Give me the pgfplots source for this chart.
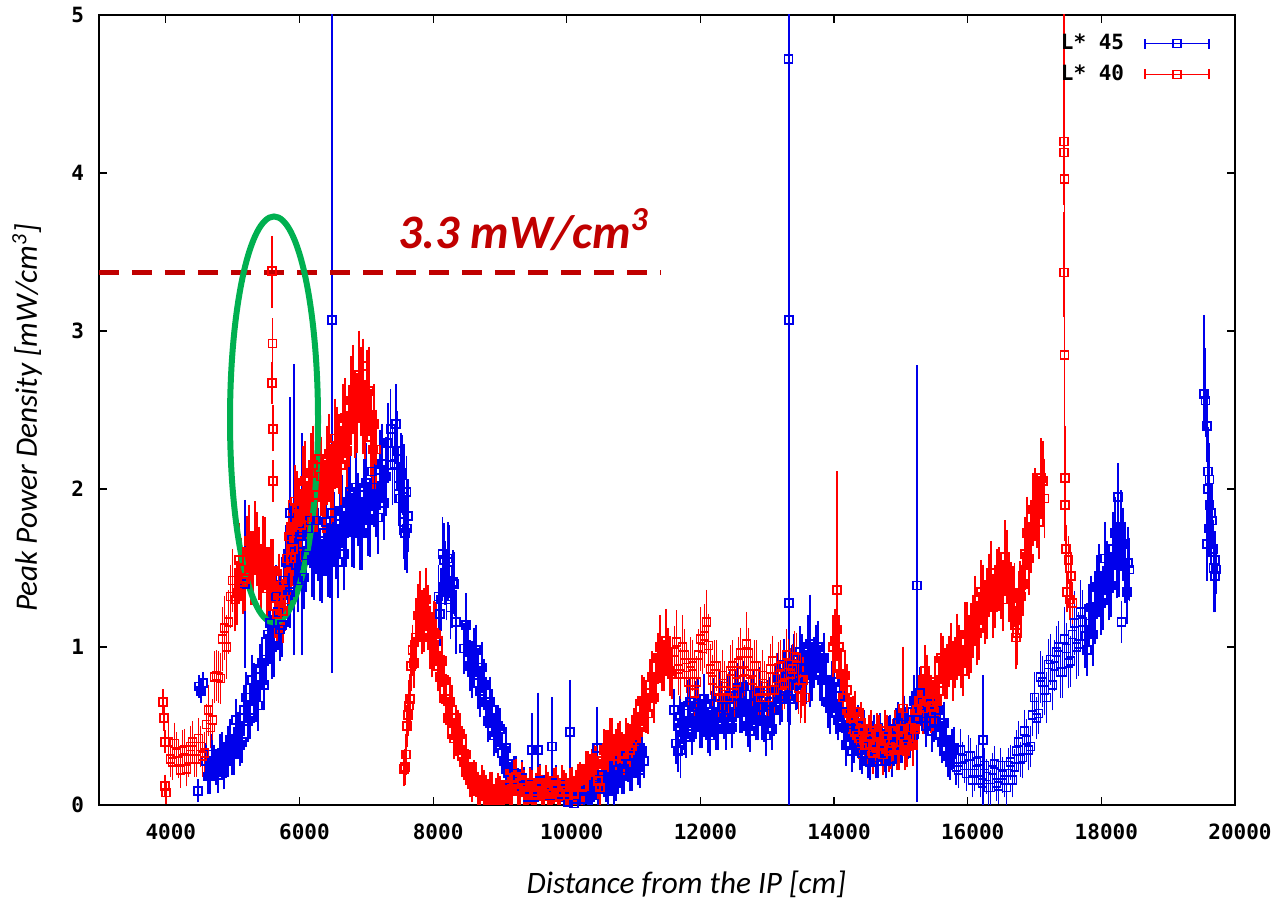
\documentclass[border=0pt]{standalone}
\usepackage{pgfplots}
\usepackage{pgfplotstable}
\pgfplotsset{compat=1.18}
\usepackage{fontspec}
\setmainfont{Carlito}
\newfontfamily\tickfont{DejaVu Sans Mono}
\definecolor{gpblue}{RGB}{0,0,235}
\definecolor{gpred}{RGB}{255,0,0}
\definecolor{darkred}{RGB}{192,0,0}
\definecolor{ellgreen}{RGB}{0,176,80}

\pgfplotstableread{
x y e
4040 .40 .10
4100 .27 .08
4160 .33 .10
4220 .22 .08
4280 .35 .10
4340 .29 .08
4400 .40 .10
4460 .29 .08
4520 .37 .10
4580 .33 .10
4640 .60 .13
4700 .54 .10
4760 .82 .13
4820 .80 .13
4880 1.12 .17
4940 1.16 .17
5000 1.42 .17
5060 1.34 .17
5120 1.49 .17
5180 1.43 .17
5240 1.67 .20
5300 1.50 .20
5360 1.62 .20
5420 1.44 .17
5480 1.59 .20
5540 1.43 .17
5600 1.48 .17
5660 1.21 .17
5720 1.29 .17
5780 1.30 .17
5840 1.70 .20
5900 1.62 .20
5960 1.88 .20
6020 1.77 .20
6080 2.05 .22
6140 1.95 .20
6200 2.15 .22
6260 1.96 .20
6320 2.08 .22
6380 1.95 .20
6440 2.22 .22
6500 2.04 .22
6560 2.27 .22
6620 2.15 .22
6680 2.45 .22
6740 2.39 .22
6800 2.63 .25
6860 2.48 .22
6920 2.62 .25
6980 2.44 .22
7040 2.62 .25
7100 2.25 .22
7140 2.25 .22
4070 .29 .08
4130 .39 .10
4190 .28 .08
4250 .34 .10
4310 .23 .08
4370 .37 .10
4430 .29 .08
4490 .42 .10
4550 .31 .10
4610 .51 .10
4670 .49 .10
4730 .81 .13
4790 .81 .13
4850 1.05 .17
4910 1.00 .17
4970 1.32 .17
5030 1.30 .17
5090 1.55 .20
5150 1.41 .17
5210 1.60 .20
5270 1.50 .20
5330 1.69 .20
5390 1.53 .20
5450 1.60 .20
5510 1.37 .17
5570 1.48 .17
5630 1.26 .17
5690 1.39 .17
5750 1.23 .17
5810 1.56 .20
5870 1.56 .20
5930 1.92 .20
5990 1.84 .20
6050 2.02 .22
6110 1.82 .20
6170 2.10 .22
6230 1.96 .20
6290 2.19 .22
6350 1.95 .20
6410 2.15 .22
6470 2.03 .22
6530 2.32 .22
6590 2.22 .22
6650 2.41 .22
6710 2.24 .22
6770 2.56 .25
6830 2.45 .22
6890 2.72 .25
6950 2.47 .22
7010 2.60 .25
7070 2.33 .22
7120 2.41 .22
}\redA

\pgfplotstableread{
x y e
7560 .23 .08
7590 .32 .10
7620 .57 .10
7650 .67 .13
7690 .98 .13
7740 1.06 .17
7800 1.28 .17
7860 1.17 .17
7920 1.19 .17
7980 1.01 .17
8040 1.08 .17
8100 .81 .13
8160 .79 .13
8220 .55 .10
8280 .60 .13
8340 .44 .10
8400 .45 .10
8460 .27 .08
8520 .24 .08
8580 .13 .08
8640 .16 .08
8700 .08 .08
8760 .11 .08
8820 .05 .08
8880 .10 .08
8940 .06 .08
9000 .08 .07
9060 .05 .07
9120 .12 .08
9180 .10 .08
9240 .18 .08
9300 .09 .08
9360 .11 .08
9420 .06 .08
9480 .11 .08
9540 .09 .08
9600 .14 .08
9660 .07 .08
9720 .10 .08
9780 .07 .08
9840 .13 .08
9900 .06 .08
9960 .11 .08
10020 .06 .08
10080 .13 .08
10140 .11 .08
10200 .16 .08
10260 .12 .08
10320 .23 .08
10380 .24 .08
10440 .26 .08
10500 .11 .08
10560 .35 .10
10620 .34 .10
10680 .42 .10
10740 .35 .10
10800 .40 .10
10860 .32 .10
10920 .39 .10
10980 .37 .10
11040 .54 .10
11100 .49 .10
11160 .65 .13
11220 .58 .10
11280 .81 .13
11340 .80 .13
11400 1.00 .17
11460 .88 .13
11520 .96 .13
11580 .83 .13
11640 1.03 .17
11700 .83 .13
11760 .95 .13
11820 .78 .13
11880 .88 .13
11940 .78 .13
12000 1.05 .17
12060 1.07 .17
12120 1.01 .17
12180 .79 .13
12240 .88 .13
12300 .68 .13
12360 .75 .13
12420 .68 .13
12480 .88 .13
12540 .78 .13
12600 .96 .13
12660 .85 .13
12720 .96 .13
12780 .79 .13
12840 .88 .13
12900 .68 .13
12960 .75 .13
13020 .68 .13
13080 .91 .13
13140 .80 .13
13200 .88 .13
13260 .77 .13
13320 .89 .13
13380 .86 .13
13440 .93 .13
13500 .68 .13
13560 .68 .13
13980 1.00 .17
14040 1.11 .17
14100 .83 .13
14160 .82 .13
14220 .58 .10
14280 .56 .10
14340 .44 .10
14400 .52 .10
14460 .38 .10
14520 .44 .10
14580 .33 .10
14640 .45 .10
14700 .38 .10
14760 .47 .10
14820 .34 .10
14880 .41 .10
14940 .35 .10
15000 .48 .10
15060 .35 .10
15120 .44 .10
15180 .38 .10
15240 .60 .10
15300 .66 .13
15360 .85 .13
15420 .65 .13
15480 .63 .13
15540 .66 .13
15600 .93 .13
15660 .83 .13
15720 .91 .13
15780 .82 .13
15840 1.01 .17
15900 .90 .13
15960 1.08 .17
16020 1.00 .17
16080 1.13 .17
16140 1.09 .17
16200 1.35 .17
16260 1.22 .17
16320 1.39 .17
16380 1.26 .17
16440 1.42 .17
16500 1.38 .17
16560 1.57 .20
16620 1.36 .17
16680 1.31 .17
16720 1.06 .17
16760 1.28 .17
16800 1.32 .17
16860 1.59 .20
16920 1.56 .20
16980 1.87 .20
17040 1.86 .20
17100 2.07 .22
17150 1.94 .22
7575 .24 .08
7605 .50 .10
7635 .63 .13
7670 .88 .13
7715 .90 .13
7770 1.20 .17
7830 1.16 .17
7890 1.30 .17
7950 1.06 .17
8010 1.09 .17
8070 .88 .13
8130 .91 .13
8190 .67 .13
8250 .65 .13
8310 .42 .10
8370 .47 .10
8430 .31 .10
8490 .32 .10
8550 .16 .08
8610 .17 .08
8670 .10 .08
8730 .14 .08
8790 .08 .08
8850 .10 .08
8910 .03 .07
8970 .09 .08
9030 .04 .07
9090 .13 .08
9150 .09 .08
9210 .17 .08
9270 .10 .08
9330 .16 .08
9390 .09 .08
9450 .12 .08
9510 .06 .08
9570 .13 .08
9630 .08 .08
9690 .14 .08
9750 .07 .08
9810 .12 .08
9870 .08 .08
9930 .14 .08
9990 .09 .08
10050 .12 .08
10110 .07 .08
10170 .15 .08
10230 .11 .08
10290 .23 .08
10350 .21 .08
10410 .27 .08
10470 .15 .08
10530 .28 .08
10590 .34 .10
10650 .42 .10
10710 .31 .10
10770 .39 .10
10830 .33 .10
10890 .42 .10
10950 .35 .10
11010 .48 .10
11070 .46 .10
11130 .66 .13
11190 .62 .13
11250 .76 .13
11310 .68 .13
11370 .93 .13
11430 .88 .13
11490 1.04 .17
11550 .85 .13
11610 .97 .13
11670 .86 .13
11730 1.00 .17
11790 .87 .13
11850 .90 .13
11910 .71 .13
11970 .95 .13
12030 .99 .13
12090 1.16 .17
12150 .86 .13
12210 .88 .13
12270 .72 .13
12330 .82 .13
12390 .72 .13
12450 .85 .13
12510 .71 .13
12570 .90 .13
12630 .84 .13
12690 1.02 .17
12750 .83 .13
12810 .88 .13
12870 .72 .13
12930 .82 .13
12990 .72 .13
13050 .86 .13
13110 .73 .13
13170 .87 .13
13230 .76 .13
13290 .95 .13
13350 .83 .13
13410 .94 .13
13470 .74 .13
13530 .79 .13
14010 1.04 .17
14070 1.00 .17
14130 .68 .13
14190 .73 .13
14250 .55 .10
14310 .59 .10
14370 .42 .10
14430 .48 .10
14490 .38 .10
14550 .47 .10
14610 .38 .10
14670 .44 .10
14730 .32 .10
14790 .44 .10
14850 .36 .10
14910 .47 .10
14970 .35 .10
15030 .44 .10
15090 .37 .10
15150 .49 .10
15210 .48 .10
15270 .66 .13
15330 .61 .13
15390 .79 .13
15450 .62 .13
15510 .78 .13
15570 .72 .13
15630 .91 .13
15690 .83 .13
15750 .99 .13
15810 .90 .13
15870 .98 .13
15930 .85 .13
15990 1.08 .17
16050 1.04 .17
16110 1.25 .17
16170 1.12 .17
16230 1.32 .17
16290 1.25 .17
16350 1.47 .17
16410 1.32 .17
16470 1.43 .17
16530 1.30 .17
16590 1.51 .20
16650 1.31 .17
16700 1.33 .17
16740 1.09 .17
16780 1.34 .17
16830 1.40 .17
16890 1.72 .20
16950 1.70 .20
17010 1.90 .20
17070 1.79 .20
17125 2.05 .22
}\redB

\pgfplotstableread{
x y ep em
3960 0.65 0.05 0.05
3975 0.55 0.05 0.05
3985 0.40 0.04 0.04
3990 0.12 0.04 0.04
4000 0.08 0.04 0.04
5590 3.38 0.19 0.20
5595 2.92 0.13 0.14
5590 2.67 0.10 0.10
5600 2.38 0.12 0.11
5605 2.05 0.10 0.10
6950 2.78 0.14 0.14
14040 1.36 0.72 0.20
15030 0.61 0.36 0.10
17440 4.20 0.27 0.20
17445 4.13 0.87 0.30
17450 3.96 0.25 0.25
17445 3.37 0.35 0.25
17450 2.85 0.60 0.50
17455 2.07 0.30 0.20
17460 1.90 0.20 0.20
17470 1.62 0.12 0.12
17490 1.35 0.10 0.10
17510 1.55 0.12 0.12
17530 1.30 0.10 0.10
17550 1.45 0.12 0.12
17570 1.28 0.10 0.10
}\rediso

\pgfplotstableread{
x y e
4600 .28 .08
4660 .18 .08
4720 .27 .08
4780 .19 .08
4840 .33 .10
4900 .28 .08
4960 .41 .10
5020 .32 .10
5080 .46 .10
5140 .40 .10
5200 .68 .13
5260 .55 .10
5320 .74 .13
5380 .63 .13
5440 .90 .13
5500 .92 .13
5560 1.15 .17
5620 1.01 .17
5680 1.22 .17
5740 1.14 .17
5800 1.54 .20
5860 1.35 .17
5920 1.60 .20
5980 1.42 .17
6040 1.73 .20
6100 1.58 .20
6160 1.80 .20
6220 1.53 .20
6280 1.65 .20
6340 1.48 .17
6400 1.79 .20
6460 1.54 .20
6520 1.75 .20
6580 1.54 .20
6640 1.86 .20
6700 1.74 .20
6760 1.98 .20
6820 1.73 .20
6880 1.87 .20
6940 1.72 .20
7000 2.04 .22
7060 1.80 .20
7120 2.01 .22
7180 1.82 .20
7240 2.16 .22
7300 2.08 .22
7360 2.38 .22
7420 2.16 .22
7460 2.24 .22
7500 1.94 .20
7540 2.09 .22
7580 1.72 .20
7620 1.83 .20
4630 .18 .08
4690 .32 .10
4750 .24 .08
4810 .32 .10
4870 .21 .08
4930 .37 .10
4990 .32 .10
5050 .54 .10
5110 .38 .10
5170 .60 .13
5230 .53 .10
5290 .79 .13
5350 .69 .13
5410 .86 .13
5470 .76 .13
5530 1.08 .17
5590 1.00 .17
5650 1.32 .17
5710 1.11 .17
5770 1.42 .17
5830 1.33 .17
5890 1.68 .20
5950 1.52 .20
6010 1.70 .20
6070 1.44 .17
6130 1.75 .20
6190 1.55 .20
6250 1.80 .20
6310 1.49 .17
6370 1.72 .20
6430 1.55 .20
6490 1.85 .20
6550 1.66 .20
6610 1.83 .20
6670 1.59 .20
6730 1.92 .20
6790 1.74 .20
6850 2.01 .22
6910 1.72 .20
6970 1.96 .20
7030 1.81 .20
7090 2.11 .22
7150 1.93 .20
7210 2.12 .22
7270 1.91 .20
7330 2.29 .22
7390 2.15 .22
7440 2.41 .22
7480 2.02 .22
7520 2.10 .22
7560 1.79 .20
7600 1.98 .20
}\blueA

\pgfplotstableread{
x y e
8080 1.32 .17
8120 1.30 .17
8160 1.55 .20
8200 1.37 .17
8240 1.54 .20
8280 1.32 .17
8320 1.40 .17
8460 .99 .13
8520 1.01 .13
8580 .84 .13
8640 .98 .13
8700 .72 .13
8760 .76 .13
8820 .53 .10
8880 .60 .10
8940 .46 .10
9000 .48 .10
9060 .28 .08
9120 .26 .08
9180 .13 .08
9240 .20 .08
9300 .10 .08
9360 .13 .08
9420 .05 .08
9480 .13 .08
9540 .08 .08
9600 .15 .08
9660 .08 .08
9720 .10 .08
9780 .06 .08
9840 .14 .08
9900 .06 .08
9960 .10 .08
10020 .02 .08
10080 .09 .08
10140 .04 .08
10200 .10 .08
10260 .04 .08
10320 .09 .08
10380 .06 .08
10440 .16 .08
10500 .11 .08
10560 .16 .08
10620 .10 .08
10680 .17 .08
10740 .14 .08
10800 .28 .08
10860 .18 .08
10920 .26 .08
10980 .20 .08
11040 .36 .10
11100 .22 .08
11160 .28 .08
8100 1.21 .17
8140 1.59 .20
8180 1.47 .17
8220 1.56 .20
8260 1.25 .17
8300 1.41 .17
8340 1.16 .17
8490 1.14 .17
8550 .88 .13
8610 .96 .13
8670 .77 .13
8730 .87 .13
8790 .65 .13
8850 .65 .13
8910 .44 .10
8970 .50 .10
9030 .33 .10
9090 .36 .10
9150 .16 .08
9210 .20 .08
9270 .12 .08
9330 .17 .08
9390 .09 .08
9450 .13 .08
9510 .05 .08
9570 .13 .08
9630 .08 .08
9690 .14 .08
9750 .06 .08
9810 .12 .08
9870 .07 .08
9930 .13 .08
9990 .06 .08
10050 .09 .08
10110 .01 .08
10170 .09 .08
10230 .04 .08
10290 .12 .08
10350 .05 .08
10410 .13 .08
10470 .10 .08
10530 .19 .08
10590 .13 .08
10650 .17 .08
10710 .10 .08
10770 .22 .08
10830 .18 .08
10890 .31 .10
10950 .20 .08
11010 .32 .10
11070 .24 .08
11130 .34 .10
}\blueB

\pgfplotstableread{
x y e
11600 .60 .10
11660 .34 .10
11720 .52 .10
11780 .43 .10
11840 .65 .13
11900 .53 .10
11960 .64 .13
12020 .49 .10
12080 .57 .10
12140 .44 .10
12200 .64 .13
12260 .48 .10
12320 .62 .13
12380 .48 .10
12440 .69 .13
12500 .58 .10
12560 .74 .13
12620 .59 .10
12680 .63 .13
12740 .47 .10
12800 .70 .13
12860 .54 .10
12920 .62 .13
12980 .44 .10
13040 .65 .13
13100 .60 .13
13160 .80 .13
13220 .69 .13
13280 .81 .13
13340 .67 .13
13400 .92 .13
13460 .77 .13
13520 .92 .13
13580 .80 .13
13640 1.02 .17
13700 .90 .13
13760 1.00 .13
13820 .79 .13
13880 .79 .13
13940 .61 .13
14000 .78 .13
14060 .54 .10
14120 .59 .10
14180 .38 .10
14240 .51 .10
14300 .40 .10
14360 .50 .10
14420 .33 .10
14480 .37 .10
14540 .27 .08
14600 .44 .10
14660 .28 .08
14720 .39 .10
14780 .28 .08
14840 .44 .10
14900 .38 .10
14960 .52 .10
15020 .40 .10
15080 .49 .10
15140 .43 .10
15200 .66 .13
15260 .55 .10
15320 .65 .13
15380 .50 .10
15440 .64 .13
15500 .53 .10
15560 .60 .10
15620 .40 .10
15680 .41 .10
15740 .27 .08
15800 .36 .10
15860 .22 .08
15920 .29 .08
15980 .20 .08
16040 .31 .08
16100 .20 .08
16160 .28 .08
16220 .14 .08
16280 .18 .08
16340 .11 .08
16400 .26 .08
16460 .12 .08
16520 .19 .08
16580 .11 .08
16640 .27 .08
16700 .24 .08
16760 .40 .10
16820 .30 .10
16880 .41 .10
16940 .37 .10
17000 .68 .13
17060 .58 .10
17120 .78 .13
17180 .68 .13
17240 .92 .13
17300 .88 .13
17360 1.00 .13
17420 .84 .13
17480 .99 .13
17540 .91 .13
17600 1.15 .17
17660 1.02 .17
17720 1.16 .17
17780 .98 .13
17840 1.25 .17
17900 1.22 .17
17960 1.45 .17
18020 1.31 .17
18080 1.47 .17
18140 1.39 .17
18200 1.72 .20
18260 1.55 .20
18320 1.65 .20
18380 1.35 .17
18420 1.49 .17
11630 .39 .10
11690 .56 .10
11750 .48 .10
11810 .63 .13
11870 .45 .10
11930 .62 .13
11990 .49 .10
12050 .67 .13
12110 .46 .10
12170 .59 .10
12230 .48 .10
12290 .68 .13
12350 .55 .10
12410 .67 .13
12470 .49 .10
12530 .69 .13
12590 .59 .10
12650 .75 .13
12710 .50 .10
12770 .64 .13
12830 .54 .10
12890 .71 .13
12950 .53 .10
13010 .63 .13
13070 .48 .10
13130 .73 .13
13190 .67 .13
13250 .89 .13
13310 .69 .13
13370 .85 .13
13430 .76 .13
13490 .97 .13
13550 .86 .13
13610 1.00 .17
13670 .82 .13
13730 .98 .13
13790 .82 .13
13850 .93 .13
13910 .65 .13
13970 .75 .13
14030 .58 .10
14090 .69 .13
14150 .49 .10
14210 .53 .10
14270 .34 .10
14330 .48 .10
14390 .35 .10
14450 .47 .10
14510 .28 .08
14570 .40 .10
14630 .30 .10
14690 .45 .10
14750 .34 .10
14810 .43 .10
14870 .29 .08
14930 .48 .10
14990 .40 .10
15050 .56 .10
15110 .42 .10
15170 .59 .10
15230 .54 .10
15290 .71 .13
15350 .58 .10
15410 .64 .13
15470 .47 .10
15530 .60 .10
15590 .44 .10
15650 .52 .10
15710 .31 .10
15770 .35 .10
15830 .24 .08
15890 .35 .10
15950 .25 .08
16010 .31 .10
16070 .16 .08
16130 .27 .08
16190 .16 .08
16250 .25 .08
16310 .11 .08
16370 .22 .08
16430 .14 .08
16490 .25 .08
16550 .16 .08
16610 .25 .08
16670 .16 .08
16730 .34 .10
16790 .29 .08
16850 .47 .10
16910 .35 .10
16970 .57 .10
17030 .55 .10
17090 .81 .13
17150 .73 .13
17210 .89 .13
17270 .76 .13
17330 .97 .13
17390 .84 .13
17450 1.05 .17
17510 .90 .13
17570 1.08 .17
17630 1.00 .17
17690 1.22 .17
17750 1.07 .17
17810 1.20 .17
17870 1.08 .17
17930 1.38 .17
17990 1.28 .17
18050 1.56 .20
18110 1.37 .17
18170 1.62 .20
18230 1.54 .20
18290 1.76 .20
18350 1.51 .20
18400 1.53 .20
}\blueC

\pgfplotstableread{
x y ep em
4480 0.09 0.04 0.04
4500 0.75 0.04 0.04
4530 0.72 0.04 0.04
4560 0.77 0.04 0.04
5185 1.40 0.50 0.50
5855 1.85 0.70 0.70
5920 1.88 0.88 0.90
6040 1.65 0.67 0.67
6485 3.07 2.50 2.20
7560 1.95 0.30 0.30
7610 1.75 0.25 0.25
9480 0.35 0.20 0.20
9570 0.35 0.33 0.22
9780 0.37 0.28 0.20
10050 0.46 0.30 0.32
10450 0.36 0.23 0.22
11700 0.35 0.15 0.15
13320 4.72 1.00 2.30
13325 3.07 2.00 2.90
13330 1.28 1.20 1.25
13640 0.95 0.35 0.30
15240 1.39 1.36 1.34
16230 0.41 0.38 0.38
18250 1.95 0.18 0.18
18300 1.16 0.10 0.10
19540 2.60 0.47 0.20
19560 2.56 0.30 0.20
19580 2.40 0.20 0.20
19600 2.11 0.25 0.20
19620 2.06 0.20 0.20
19600 2.00 0.15 0.15
19620 1.90 0.15 0.15
19640 1.85 0.15 0.15
19660 1.80 0.15 0.15
19610 1.75 0.15 0.15
19640 1.70 0.12 0.12
19580 1.65 0.25 0.20
19680 1.62 0.15 0.15
19700 1.55 0.15 0.20
19720 1.49 0.12 0.12
19700 1.45 0.20 0.20
19680 1.50 0.20 0.25
}\blueiso

\pgfplotsset{
  errstyle/.style={only marks, mark=square, mark size=2pt, line width=0.85pt,
    mark options={solid, line width=0.85pt},
    error bars/.cd, y dir=both, y explicit,
    error bar style={line width=0.85pt},
    error mark options={mark size=2.5pt, line width=0.85pt}},
}

\begin{document}
\begin{tikzpicture}
\begin{axis}[
  width=568pt, height=395pt, scale only axis,
  xmin=3000, xmax=20000, ymin=0, ymax=5,
  xtick={4000,6000,...,20000}, ytick={0,1,2,3,4,5},
  scaled x ticks=false,
  /pgf/number format/assume math mode=true,
  /pgf/number format/1000 sep={},
  ticklabel style={font=\tickfont\bfseries\fontsize{10.5}{12}\selectfont},
  xticklabel style={yshift=-6pt, xshift=2.5pt},
  yticklabel style={xshift=-4pt},
  tick align=inside, major tick length=4pt,
  tick style={black, line width=0.6pt},
  axis line style={line width=0.8pt},
  xlabel={Distance from the IP [cm]},
  ylabel={Peak Power Density [mW/cm\textsuperscript{3}]},
  label style={font=\itshape\fontsize{15.6}{18}\selectfont},
  xlabel style={at={(rel axis cs:0.517,-0.1)}, anchor=center},
  ylabel style={at={(rel axis cs:-0.0634,0.49)}, anchor=center},
  legend style={draw=none, fill=none, at={(rel axis cs:0.978,0.981)}, anchor=north east,
    font=\tickfont\bfseries\fontsize{10.5}{12}\selectfont, inner sep=0pt, row sep=2pt,
    /tikz/every odd column/.append style={column sep=8pt}},
  legend plot pos=right,
  legend cell align=right,
]
\coordinate (O) at (rel axis cs:0,0);
\addplot[gpblue, legend image code/.code={
    \draw[gpblue, line width=0.75pt] (0pt,0pt) -- (32pt,0pt);
    \draw[gpblue, line width=0.75pt] (0pt,-2.5pt) -- (0pt,2.5pt) (32pt,-2.5pt) -- (32pt,2.5pt);
    \draw[gpblue, line width=0.75pt] (14pt,-2pt) rectangle (18pt,2pt);},
  errstyle] table[x=x, y=y, y error=e] {\blueA};
\addlegendentry{L* 45}
\addplot[gpblue, forget plot, errstyle] table[x=x, y=y, y error=e] {\blueB};
\addplot[gpblue, forget plot, errstyle] table[x=x, y=y, y error=e] {\blueC};
\addplot[gpblue, forget plot, errstyle] table[x=x, y=y, y error plus=ep, y error minus=em] {\blueiso};
\addplot[gpred, legend image code/.code={
    \draw[gpred, line width=0.75pt] (0pt,0pt) -- (32pt,0pt);
    \draw[gpred, line width=0.75pt] (0pt,-2.5pt) -- (0pt,2.5pt) (32pt,-2.5pt) -- (32pt,2.5pt);
    \draw[gpred, line width=0.75pt] (14pt,-2pt) rectangle (18pt,2pt);},
  errstyle] table[x=x, y=y, y error=e] {\redA};
\addlegendentry{L* 40}
\addplot[gpred, forget plot, errstyle] table[x=x, y=y, y error=e] {\redB};
\addplot[gpred, forget plot, errstyle] table[x=x, y=y, y error plus=ep, y error minus=em] {\rediso};

\draw[darkred, line width=2.3pt, dash pattern=on 10pt off 6.5pt] (axis cs:3000,3.37) -- (axis cs:11400,3.37);
\node[anchor=base west, inner sep=0pt, text=darkred, font=\bfseries\itshape\fontsize{24}{28}\selectfont] at (axis cs:7470,3.52) {3.3 mW/cm\textsuperscript{3}};
\draw[ellgreen, line width=3pt] (axis cs:5619,2.44) ellipse [x radius=22pt, y radius=101.5pt];
\end{axis}
\pgfresetboundingbox
\path (O) ++(-49.5pt,-47pt) rectangle ++(638pt,449.5pt);
\end{tikzpicture}
\end{document}
